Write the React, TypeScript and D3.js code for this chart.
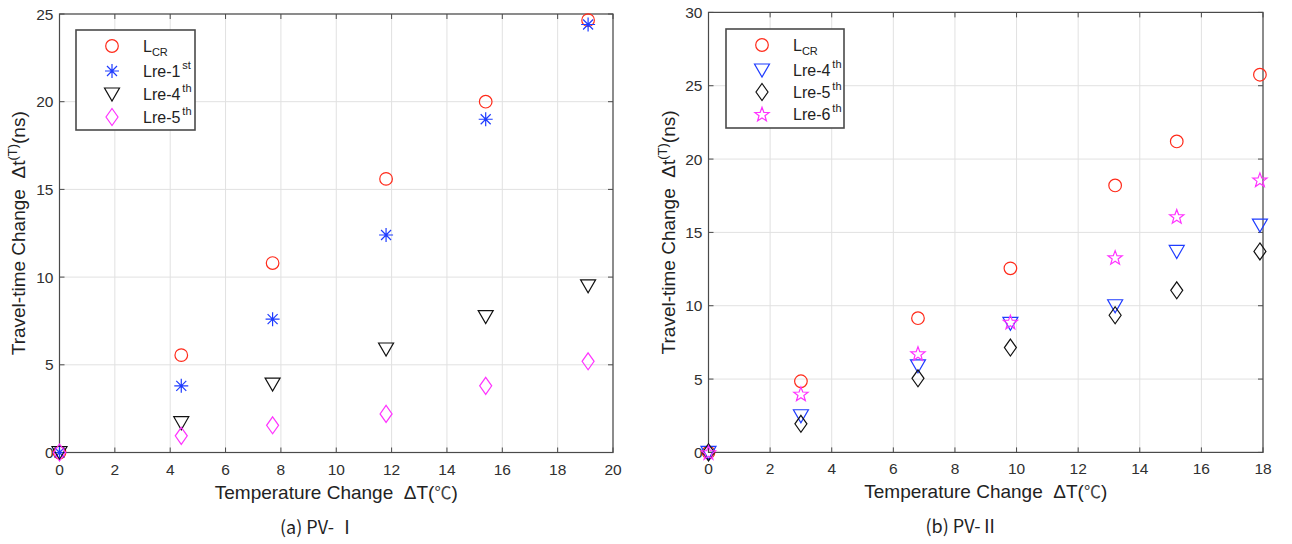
import React from "react";
import * as d3 from "d3";

// ---------- data ----------
const tempA = [0, 4.4, 7.7, 11.8, 15.4, 19.1];
const lcrA = [0, 5.55, 10.8, 15.6, 20.0, 24.65];
const lre1A = [0, 3.8, 7.6, 12.4, 19.0, 24.4];
const lre4A = [0, 1.7, 3.9, 5.9, 7.75, 9.5];
const lre5A = [0, 0.95, 1.55, 2.2, 3.8, 5.2];

const tempB = [0, 3.0, 6.8, 9.8, 13.2, 15.2, 17.9];
const lcrB = [0, 4.85, 9.15, 12.55, 18.2, 21.2, 25.75];
const lre4B = [0, 2.5, 5.9, 8.8, 10.0, 13.7, 15.5];
const lre5B = [0, 1.95, 5.05, 7.15, 9.35, 11.05, 13.7];
const lre6B = [0, 4.0, 6.75, 8.9, 13.3, 16.1, 18.6];

const xTicksA = [0, 2, 4, 6, 8, 10, 12, 14, 16, 18, 20];
const yTicksA = [0, 5, 10, 15, 20, 25];
const xTicksB = [0, 2, 4, 6, 8, 10, 12, 14, 16, 18];
const yTicksB = [0, 5, 10, 15, 20, 25, 30];

const xLabelMain = "Temperature Change\u00A0\u00A0ΔT(";
const xLabelUnit = "℃";
const yLabelMain = "Travel-time Change\u00A0\u00A0Δt";
const captionA = "(a) PV- Ⅰ";
const captionB = "(b) PV-Ⅱ";

type Shape = "circle" | "asterisk" | "triangle" | "diamond" | "star";

// ---------- marker shapes ----------
function markerPath(shape: Shape): string {
  switch (shape) {
    case "circle": {
      const p = d3.path();
      p.arc(0, 0, 6.3, 0, Math.PI * 2);
      return p.toString();
    }
    case "asterisk": {
      const r = 7, q = 5;
      return `M0,${-r}L0,${r}M${-r},0L${r},0M${-q},${-q}L${q},${q}M${-q},${q}L${q},${-q}`;
    }
    case "triangle":
      return "M-7.5,-6L7.5,-6L0,7Z";
    case "diamond":
      return "M0,-8.5L6,0L0,8.5L-6,0Z";
    case "star": {
      const pts: string[] = [];
      const R = 7.5, r = 3.1;
      for (let i = 0; i < 10; i++) {
        const a = -Math.PI / 2 + (i * Math.PI) / 5;
        const rr = i % 2 === 0 ? R : r;
        pts.push(`${(rr * Math.cos(a)).toFixed(2)},${(rr * Math.sin(a) + 0.8).toFixed(2)}`);
      }
      return "M" + pts.join("L") + "Z";
    }
  }
}

interface Series {
  name: string;
  sup?: string;
  sub?: string;
  xs: number[];
  ys: number[];
  color: string;
  shape: Shape;
}

interface PanelProps {
  x0: number; x1: number; y0: number; y1: number;
  xMax: number; yMax: number;
  xTicks: number[]; yTicks: number[];
  series: Series[];
  legend: { x: number; y: number; w: number; h: number; mx: number; tx: number; rows: number[] };
  caption: string;
  captionX: number;
  ylabelX: number;
}

const FONT = "'Liberation Sans', Arial, sans-serif";
const CJK = "'Noto Sans CJK SC', 'Open Sans', sans-serif";
const AX = "#4a4a4a";
const TXT = "#303030";

function Panel(p: PanelProps) {
  const xs = d3.scaleLinear().domain([0, p.xMax]).range([p.x0, p.x1]);
  const ys = d3.scaleLinear().domain([0, p.yMax]).range([p.y0, p.y1]);
  const tl = 5;
  const cx = (p.x0 + p.x1) / 2;
  const cy = (p.y0 + p.y1) / 2;
  return (
    <g>
      {/* grid */}
      {p.xTicks.map((t) => (
        <line key={"gx" + t} x1={xs(t)} x2={xs(t)} y1={p.y0} y2={p.y1} stroke="#e1e1e1" strokeWidth={1} />
      ))}
      {p.yTicks.map((t) => (
        <line key={"gy" + t} x1={p.x0} x2={p.x1} y1={ys(t)} y2={ys(t)} stroke="#e1e1e1" strokeWidth={1} />
      ))}
      {/* box */}
      <rect x={p.x0} y={p.y1} width={p.x1 - p.x0} height={p.y0 - p.y1} fill="none" stroke={AX} strokeWidth={1.2} />
      {/* ticks */}
      {p.xTicks.map((t) => (
        <g key={"tx" + t}>
          <line x1={xs(t)} x2={xs(t)} y1={p.y0} y2={p.y0 - tl} stroke={AX} />
          <line x1={xs(t)} x2={xs(t)} y1={p.y1} y2={p.y1 + tl} stroke={AX} />
          <text x={xs(t)} y={p.y0 + 22} textAnchor="middle" fontSize={15.5} fill={TXT} fontFamily={FONT}>{t}</text>
        </g>
      ))}
      {p.yTicks.map((t) => (
        <g key={"ty" + t}>
          <line x1={p.x0} x2={p.x0 + tl} y1={ys(t)} y2={ys(t)} stroke={AX} />
          <line x1={p.x1} x2={p.x1 - tl} y1={ys(t)} y2={ys(t)} stroke={AX} />
          <text x={p.x0 - 6} y={ys(t) + 5.5} textAnchor="end" fontSize={15.5} fill={TXT} fontFamily={FONT}>{t}</text>
        </g>
      ))}
      {/* markers */}
      {p.series.map((s) => (
        <g key={s.name + (s.sup || "") + (s.sub || "")}>
          {s.xs.map((xv, i) => (
            <path key={i} d={markerPath(s.shape)} transform={`translate(${xs(xv)},${ys(s.ys[i])})`}
              fill="none" stroke={s.color} strokeWidth={1.2} />
          ))}
        </g>
      ))}
      {/* legend */}
      <rect x={p.legend.x} y={p.legend.y} width={p.legend.w} height={p.legend.h} fill="white" stroke={AX} strokeWidth={1.6} />
      {p.series.map((s, i) => (
        <g key={"lg" + i}>
          <path d={markerPath(s.shape)} transform={`translate(${p.legend.mx},${p.legend.rows[i]})`} fill="none" stroke={s.color} strokeWidth={1.2} />
          <text x={p.legend.tx} y={p.legend.rows[i] + 5.5} fontSize={16} fill="#222" fontFamily={FONT}>
            {s.name}
            {s.sub && <tspan fontSize={11} dy={4}>{s.sub}</tspan>}
            {s.sup && <tspan fontSize={11} dx={2} dy={-8}>{s.sup}</tspan>}
          </text>
        </g>
      ))}
      {/* axis labels */}
      <text x={cx} y={p.y0 + 46} textAnchor="middle" fontSize={19} fill="#222" fontFamily={FONT}>
        {xLabelMain}<tspan fontFamily={CJK} fontSize={17} fill="#444">{xLabelUnit}</tspan>)
      </text>
      <text transform={`translate(${p.ylabelX},${cy}) rotate(-90)`} textAnchor="middle" fontSize={19} fill="#222" fontFamily={FONT}>
        {yLabelMain}<tspan fontSize={13} dy={-8}>(T)</tspan><tspan dy={8}>(ns)</tspan>
      </text>
      <text x={p.captionX} y={p.y0 + 81} textAnchor="middle" fontSize={18} fill="#222" fontFamily={CJK}>{p.caption}</text>
    </g>
  );
}

export default function App() {
  const seriesA: Series[] = [
    { name: "L", sub: "CR", xs: tempA, ys: lcrA, color: "#ff2a1a", shape: "circle" },
    { name: "Lre-1", sup: "st", xs: tempA, ys: lre1A, color: "#1f3cff", shape: "asterisk" },
    { name: "Lre-4", sup: "th", xs: tempA, ys: lre4A, color: "#111", shape: "triangle" },
    { name: "Lre-5", sup: "th", xs: tempA, ys: lre5A, color: "#ff33ff", shape: "diamond" },
  ];
  const seriesB: Series[] = [
    { name: "L", sub: "CR", xs: tempB, ys: lcrB, color: "#ff2a1a", shape: "circle" },
    { name: "Lre-4", sup: "th", xs: tempB, ys: lre4B, color: "#1f3cff", shape: "triangle" },
    { name: "Lre-5", sup: "th", xs: tempB, ys: lre5B, color: "#111", shape: "diamond" },
    { name: "Lre-6", sup: "th", xs: tempB, ys: lre6B, color: "#ff33ff", shape: "star" },
  ];
  return (
    <svg width={1292} height={544} style={{ position: "absolute", left: 0, top: 0, background: "white" }}>
      <rect width={1292} height={544} fill="white" />
      <Panel x0={59.5} x1={613} y0={452.5} y1={14} xMax={20} yMax={25}
        xTicks={xTicksA} yTicks={yTicksA} series={seriesA}
        legend={{ x: 76, y: 30, w: 119, h: 100, mx: 112, tx: 143, rows: [46, 71, 94, 117] }}
        caption={captionA} captionX={318} ylabelX={25} />
      <Panel x0={708.5} x1={1263} y0={452.4} y1={12.4} xMax={18} yMax={30}
        xTicks={xTicksB} yTicks={yTicksB} series={seriesB}
        legend={{ x: 726, y: 29, w: 118, h: 99, mx: 762, tx: 793, rows: [45, 70, 92, 114] }}
        caption={captionB} captionX={962} ylabelX={675} />
    </svg>
  );
}
